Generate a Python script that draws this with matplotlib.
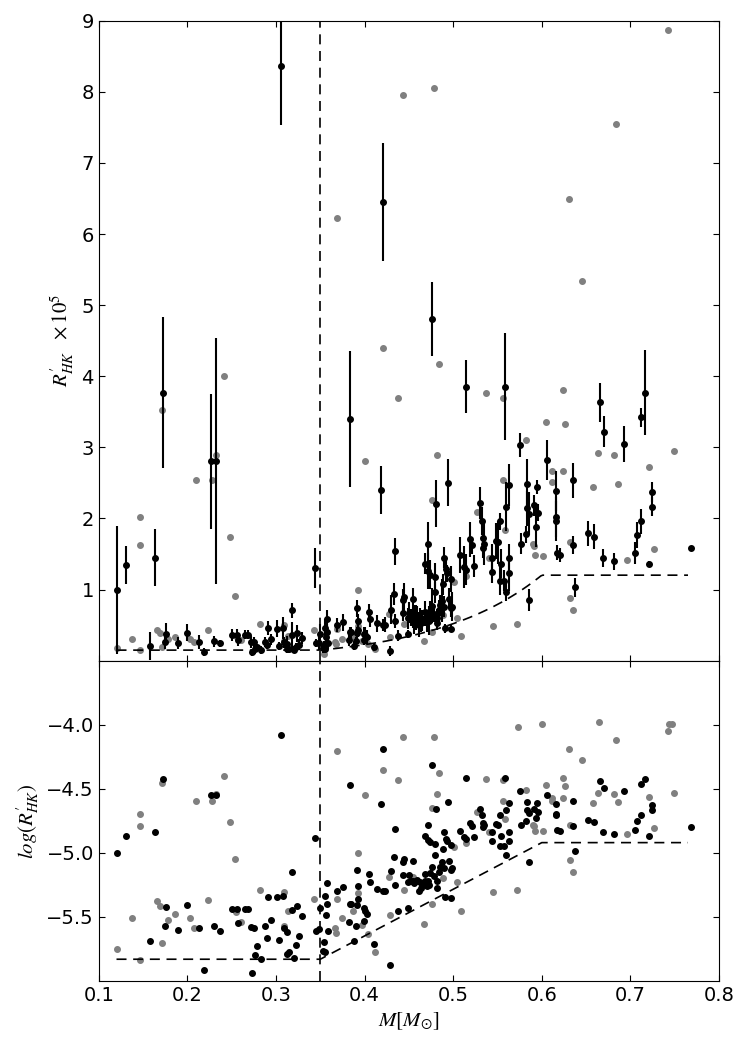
import numpy as np
import matplotlib
matplotlib.use("Agg")
import matplotlib.pyplot as plt

plt.rcParams['mathtext.fontset'] = 'stix'
plt.rcParams['xtick.direction'] = 'in'
plt.rcParams['ytick.direction'] = 'in'
plt.rcParams['xtick.top'] = True
plt.rcParams['ytick.right'] = True
plt.rcParams['xtick.major.size'] = 4
plt.rcParams['ytick.major.size'] = 4
plt.rcParams['font.size'] = 14

# stars with measured R'HK (black, with errors in units of 1e-5)
black_mass = [
    0.121, 0.131, 0.158, 0.164, 0.173, 0.176, 0.175, 0.189, 0.199, 0.213,
    0.219, 0.227, 0.232, 0.230, 0.237, 0.250, 0.256, 0.257, 0.265, 0.268,
    0.272, 0.275, 0.273, 0.276, 0.279, 0.283, 0.288, 0.291, 0.290, 0.294,
    0.301, 0.303, 0.306, 0.308, 0.309, 0.312, 0.312, 0.315, 0.318, 0.318,
    0.320, 0.324, 0.323, 0.326, 0.329, 0.344, 0.345, 0.349, 0.350, 0.354,
    0.353, 0.355, 0.355, 0.356, 0.358, 0.358, 0.359, 0.369, 0.376, 0.383,
    0.383, 0.382, 0.421, 0.418, 0.476, 0.514, 0.558, 0.481, 0.494, 0.434,
    0.472, 0.468, 0.472, 0.474, 0.480, 0.479, 0.490, 0.492, 0.493, 0.489,
    0.497, 0.508, 0.512, 0.514, 0.519, 0.521, 0.524, 0.530, 0.532, 0.534,
    0.535, 0.534, 0.544, 0.544, 0.548, 0.551, 0.553, 0.554, 0.553, 0.557,
    0.560, 0.563, 0.563, 0.563, 0.560, 0.575, 0.576, 0.582, 0.583, 0.583,
    0.586, 0.591, 0.593, 0.595, 0.586, 0.498, 0.491, 0.485, 0.484, 0.482,
    0.482, 0.487, 0.495, 0.497, 0.499, 0.490, 0.476, 0.474, 0.478, 0.472,
    0.468, 0.473, 0.470, 0.468, 0.465, 0.464, 0.461, 0.462, 0.459, 0.458,
    0.456, 0.455, 0.452, 0.449, 0.450, 0.443, 0.455, 0.445, 0.443, 0.433,
    0.430, 0.434, 0.421, 0.423, 0.414, 0.406, 0.405, 0.391, 0.392, 0.393,
    0.385, 0.391, 0.390, 0.399, 0.401, 0.403, 0.399, 0.388, 0.411, 0.429,
    0.438, 0.449, 0.596, 0.606, 0.616, 0.616, 0.616, 0.617, 0.621, 0.635,
    0.635, 0.638, 0.652, 0.659, 0.666, 0.670, 0.669, 0.682, 0.693, 0.705,
    0.707, 0.712, 0.712, 0.716, 0.721, 0.724, 0.724, 0.768,
]
black_logr = [
    -5.000, -4.872, -5.688, -4.839, -4.424, -5.424, -5.570, -5.602, -5.406, -5.583,
    -5.914, -4.552, -4.552, -5.568, -5.609, -5.440, -5.435, -5.547, -5.435, -5.435,
    -5.581, -5.589, -5.938, -5.800, -5.727, -5.831, -5.573, -5.341, -5.661, -5.521,
    -5.346, -5.682, -4.078, -5.339, -5.586, -5.620, -5.792, -5.776, -5.151, -5.443,
    -5.818, -5.414, -5.716, -5.651, -5.495, -4.885, -5.609, -5.596, -5.432, -5.693,
    -5.763, -5.771, -5.333, -5.487, -5.232, -5.401, -5.612, -5.300, -5.266, -4.469,
    -5.401, -5.539, -4.190, -4.620, -4.318, -4.414, -4.414, -4.656, -4.602, -4.813,
    -4.784, -4.865, -4.898, -4.917, -4.930, -5.018, -4.839, -4.891, -4.911, -4.969,
    -4.940, -4.828, -4.880, -4.893, -4.768, -4.789, -4.875, -4.654, -4.706, -4.763,
    -4.784, -4.799, -4.841, -4.904, -4.773, -4.779, -4.708, -4.865, -4.948, -4.948,
    -4.664, -4.607, -4.841, -4.911, -5.016, -4.518, -4.784, -4.750, -4.604, -4.669,
    -4.685, -4.661, -4.727, -4.612, -5.068, -5.349, -5.344, -5.109, -5.151, -5.219,
    -5.276, -5.073, -5.060, -5.133, -5.120, -5.120, -5.112, -5.159, -5.180, -5.216,
    -5.161, -5.250, -5.255, -5.221, -5.250, -5.276, -5.294, -5.224, -5.211, -5.216,
    -5.237, -5.216, -5.216, -5.224, -5.172, -5.172, -5.060, -5.049, -5.070, -5.029,
    -5.143, -5.253, -5.299, -5.294, -5.281, -5.229, -5.167, -5.133, -5.258, -5.362,
    -5.401, -5.409, -5.568, -5.432, -5.451, -5.479, -5.529, -5.685, -5.711, -5.878,
    -5.453, -5.427, -4.682, -4.549, -4.622, -4.695, -4.708, -4.818, -4.828, -4.596,
    -4.789, -4.987, -4.747, -4.758, -4.440, -4.492, -4.841, -4.854, -4.516, -4.820,
    -4.753, -4.708, -4.466, -4.424, -4.865, -4.625, -4.664, -4.799,
]
black_err = [
    0.90, 0.27, 0.20, 0.40, 1.06, 0.15, 0.10, 0.08, 0.12, 0.10,
    0.05, 0.95, 1.73, 0.08, 0.05, 0.08, 0.08, 0.08, 0.06, 0.06,
    0.08, 0.08, 0.05, 0.06, 0.05, 0.06, 0.07, 0.10, 0.06, 0.08,
    0.12, 0.06, 0.83, 0.15, 0.08, 0.10, 0.06, 0.06, 0.10, 0.18,
    0.05, 0.12, 0.05, 0.08, 0.08, 0.28, 0.06, 0.10, 0.15, 0.08,
    0.06, 0.06, 0.12, 0.10, 0.12, 0.12, 0.08, 0.10, 0.12, 0.96,
    0.08, 0.08, 0.83, 0.34, 0.52, 0.37, 0.75, 0.33, 0.33, 0.19,
    0.30, 0.15, 0.25, 0.20, 0.20, 0.15, 0.15, 0.18, 0.12, 0.15,
    0.18, 0.25, 0.30, 0.22, 0.25, 0.12, 0.15, 0.22, 0.20, 0.20,
    0.30, 0.15, 0.20, 0.15, 0.25, 0.30, 0.12, 0.20, 0.20, 0.15,
    0.35, 0.30, 0.20, 0.25, 0.12, 0.17, 0.15, 0.12, 0.35, 0.25,
    0.30, 0.15, 0.28, 0.10, 0.15, 0.05, 0.06, 0.15, 0.15, 0.12,
    0.10, 0.30, 0.15, 0.12, 0.20, 0.15, 0.25, 0.15, 0.12, 0.10,
    0.15, 0.20, 0.15, 0.12, 0.15, 0.12, 0.18, 0.15, 0.15, 0.18,
    0.20, 0.15, 0.12, 0.15, 0.15, 0.12, 0.15, 0.20, 0.15, 0.15,
    0.20, 0.10, 0.08, 0.10, 0.12, 0.12, 0.12, 0.12, 0.10, 0.10,
    0.08, 0.08, 0.06, 0.10, 0.12, 0.10, 0.08, 0.05, 0.06, 0.07,
    0.08, 0.06, 0.12, 0.28, 0.28, 0.28, 0.28, 0.10, 0.10, 0.25,
    0.13, 0.13, 0.18, 0.18, 0.28, 0.22, 0.13, 0.12, 0.25, 0.15,
    0.18, 0.18, 0.14, 0.60, 0.03, 0.14, 0.14, 0.03,
]

# stars without error estimate (gray)
gray_mass = [
    0.121, 0.138, 0.146, 0.147, 0.147, 0.166, 0.169, 0.171, 0.171, 0.178,
    0.186, 0.203, 0.208, 0.210, 0.223, 0.228, 0.232, 0.241, 0.248, 0.254,
    0.255, 0.260, 0.282, 0.309, 0.309, 0.313, 0.343, 0.354, 0.367, 0.369,
    0.369, 0.368, 0.374, 0.393, 0.400, 0.421, 0.438, 0.443, 0.478, 0.484,
    0.537, 0.556, 0.573, 0.482, 0.476, 0.501, 0.514, 0.527, 0.540, 0.556,
    0.558, 0.582, 0.590, 0.592, 0.572, 0.545, 0.509, 0.504, 0.489, 0.455,
    0.428, 0.393, 0.387, 0.397, 0.404, 0.412, 0.429, 0.445, 0.467, 0.476,
    0.600, 0.664, 0.684, 0.631, 0.645, 0.742, 0.744, 0.747, 0.749, 0.605,
    0.624, 0.626, 0.624, 0.611, 0.611, 0.663, 0.658, 0.681, 0.686, 0.721,
    0.727, 0.696, 0.591, 0.601, 0.632, 0.632, 0.635,
]
gray_logr = [
    -5.753, -5.510, -5.836, -4.695, -4.789, -5.372, -5.411, -5.706, -4.453, -5.521,
    -5.479, -5.510, -5.586, -4.594, -5.367, -4.594, -4.539, -4.398, -4.760, -5.044,
    -5.464, -5.542, -5.292, -5.302, -5.568, -5.456, -5.362, -6.040, -5.586, -5.357,
    -4.206, -5.628, -5.510, -5.000, -4.552, -4.357, -4.432, -4.099, -4.094, -4.380,
    -4.424, -4.432, -4.018, -4.539, -4.646, -4.956, -4.924, -4.680, -4.839, -4.594,
    -4.737, -4.508, -4.786, -4.826, -5.286, -5.307, -5.453, -5.224, -5.195, -5.185,
    -5.185, -5.315, -5.453, -5.563, -5.633, -5.776, -5.487, -5.289, -5.555, -5.401,
    -3.995, -3.979, -4.122, -4.188, -4.273, -4.052, -3.995, -3.997, -4.531, -4.474,
    -4.419, -4.477, -4.573, -4.573, -4.599, -4.534, -4.612, -4.539, -4.604, -4.565,
    -4.805, -4.849, -4.794, -4.831, -4.779, -5.052, -5.151,
]

# activity threshold (log R'HK) break points
thr_mass = [0.12, 0.35, 0.60, 0.765]
thr_logr = [-5.83, -5.83, -4.92, -4.92]
M_CUT = 0.35

bm = np.array(black_mass)
bl = np.array(black_logr)
be = np.array(black_err)
gm = np.array(gray_mass)
gl = np.array(gray_logr)

fig = plt.figure(figsize=(7.45, 10.5), dpi=100)
ax1 = fig.add_axes([0.1326, 0.3708, 0.8325, 0.6095])
ax2 = fig.add_axes([0.1326, 0.0657, 0.8325, 0.3051], sharex=ax1)

# top panel: linear R'HK x 1e5
ax1.plot(gm, 10 ** (gl + 5), 'o', color='0.5', mec='0.5', ms=4, zorder=2)
ax1.errorbar(bm, 10 ** (bl + 5), yerr=be, fmt='o', color='k', mec='k',
             ms=4, elinewidth=1.5, capsize=0, zorder=3)
m_fine = np.linspace(thr_mass[0], thr_mass[-1], 300)
ax1.plot(m_fine, 10 ** (np.interp(m_fine, thr_mass, thr_logr) + 5),
         color='k', lw=1.2, dashes=(6, 4), zorder=4)
ax1.axvline(M_CUT, color='k', lw=1.2, dashes=(6, 4), zorder=4)
ax1.set_ylim(0, 9)
ax1.set_yticks(range(1, 10))
ax1.set_ylabel(r"$R^{\prime}_{HK}\ \ \times10^5$", fontsize=15)
plt.setp(ax1.get_xticklabels(), visible=False)

# bottom panel: log R'HK
ax2.plot(gm, gl, 'o', color='0.5', mec='0.5', ms=4, zorder=2)
ax2.plot(bm, bl, 'o', color='k', mec='k', ms=4, zorder=3)
ax2.plot(thr_mass, thr_logr, color='k', lw=1.2, dashes=(6, 4), zorder=4)
ax2.axvline(M_CUT, color='k', lw=1.2, dashes=(6, 4), zorder=4)
ax2.set_ylim(-6.0, -3.5)
ax2.set_yticks([-5.5, -5.0, -4.5, -4.0])
ax2.set_ylabel(r"$log(R^{\prime}_{HK})$", fontsize=15)
ax2.set_xlim(0.1, 0.8)
ax2.set_xticks([0.1, 0.2, 0.3, 0.4, 0.5, 0.6, 0.7, 0.8])
ax2.set_xlabel(r"$M[M_{\odot}]$", fontsize=15)

fig.savefig('out.png', dpi=100)
